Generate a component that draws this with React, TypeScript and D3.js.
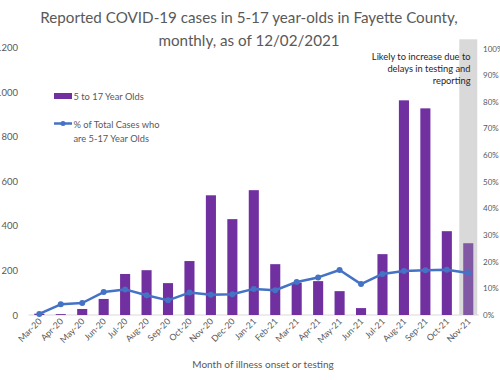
import React from "react";
import * as d3 from "d3";

const months = ["Mar-20","Apr-20","May-20","Jun-20","Jul-20","Aug-20","Sep-20","Oct-20","Nov-20","Dec-20","Jan-21","Feb-21","Mar-21","Apr-21","May-21","Jun-21","Jul-21","Aug-21","Sep-21","Oct-21","Nov-21"];
const cases = [6,4,27,72,184,201,143,242,537,430,560,228,145,152,107,31,273,963,927,376,322];
const pctTotal = [0.4,4.0,4.5,8.6,9.6,7.4,5.5,8.4,7.6,7.8,9.8,9.3,12.4,14.1,16.9,11.6,15.4,16.5,16.8,17.0,15.8];
const leftTicks = [0,200,400,600,800,1000,1200];
const rightTicks = [0,10,20,30,40,50,60,70,80,90,100];
const titleLines = ["Reported COVID-19 cases in 5-17 year-olds in Fayette County,", "monthly, as of 12/02/2021"];
const noteLines = ["Likely to increase due to", "delays in testing and", "reporting"];

const FONT = "Lato, 'Open Sans', sans-serif";

export default function App() {
  const W = 500, H = 380;
  const x0 = 28.6, x1 = 479;
  const yTop = 47.5, yBot = 315;
  const x = d3.scaleBand<string>().domain(months).range([x0, x1]).paddingInner(0.53).paddingOuter(0.265);
  const yL = d3.scaleLinear().domain([0, 1200]).range([yBot, yTop]);
  const yR = d3.scaleLinear().domain([0, 100]).range([yBot, yTop + 1]);
  const cx = (m: string) => (x(m) as number) + x.bandwidth() / 2;
  const line = d3.line<number>().x((_, i) => cx(months[i])).y(d => yR(d));
  const last = months[months.length - 1];
  const grayW = 18;

  return (
    <svg width={W} height={H} style={{ position: "absolute", left: 0, top: 0, fontFamily: FONT }}>
      <rect x={0} y={0} width={W} height={H} fill="#fff" />
      <rect x={cx(last) - grayW / 2} y={39.3} width={grayW} height={yBot - 39.3} fill="#D9D9D9" />
      {titleLines.map((t, i) => (
        <text key={i} x={249} y={23 + i * 23} textAnchor="middle" fontSize={15.2} fill="#595959">{t}</text>
      ))}
      {leftTicks.map(t => (
        <text key={t} x={18} y={yL(t) + 3.5} textAnchor="end" fontSize={9.5} fill="#595959">{t}</text>
      ))}
      {rightTicks.map(t => (
        <text key={t} x={483} y={yR(t) + 3} textAnchor="start" fontSize={8} fill="#595959">{t}%</text>
      ))}
      <line x1={x0} x2={x1} y1={yBot} y2={yBot} stroke="#D9D9D9" strokeWidth={1} />
      {cases.map((v, i) => (
        <rect key={months[i]} x={x(months[i])} y={yL(v)} width={x.bandwidth()} height={yBot - yL(v)}
          fill={i === months.length - 1 ? "#8058A3" : "#7030A0"} />
      ))}
      <path d={line(pctTotal) || ""} fill="none" stroke="#4472C4" strokeWidth={2.5} strokeLinejoin="round" />
      {pctTotal.map((v, i) => (
        <circle key={i} cx={cx(months[i])} cy={yR(v)} r={3} fill="#4472C4" />
      ))}
      {months.map(m => (
        <text key={m} transform={`translate(${cx(m) + 3},${yBot + 7}) rotate(-45)`} textAnchor="end"
          fontSize={8.8} fill="#595959">{m}</text>
      ))}
      <text x={263} y={368} textAnchor="middle" fontSize={10} fill="#595959">Month of illness onset or testing</text>
      <rect x={54} y={93} width={18} height={6} fill="#7030A0" />
      <text x={73.5} y={99.5} fontSize={9.3} fill="#595959">5 to 17 Year Olds</text>
      <line x1={54} x2={72} y1={123.5} y2={123.5} stroke="#4472C4" strokeWidth={2.5} />
      <circle cx={63} cy={123.5} r={2.5} fill="#4472C4" />
      <text x={73.5} y={127.5} fontSize={9.3} fill="#595959">% of Total Cases who</text>
      <text x={73.5} y={142} fontSize={9.3} fill="#595959">are 5-17 Year Olds</text>
      {noteLines.map((t, i) => (
        <text key={i} x={470.5} y={59.5 + i * 12.3} textAnchor="end" fontSize={9.3} fill="#262626">{t}</text>
      ))}
    </svg>
  );
}
